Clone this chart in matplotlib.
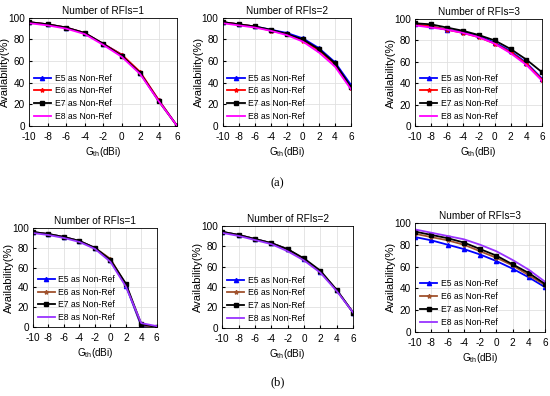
import numpy as np
import matplotlib.pyplot as plt

plt.rcParams['font.family'] = ['Liberation Sans', 'DejaVu Sans']
plt.rcParams['mathtext.fontset'] = 'custom'
plt.rcParams['mathtext.rm'] = 'Liberation Sans'
plt.rcParams['axes.unicode_minus'] = False

gth = [-10, -8, -6, -4, -2, 0, 2, 4, 6]
labels = ["E5 as Non-Ref", "E6 as Non-Ref", "E7 as Non-Ref", "E8 as Non-Ref"]

# (a) top row
a1 = [
    [96, 94, 91, 86, 76, 66, 49, 24, 0],
    [96, 94, 91, 86, 76, 66, 50, 24, 0],
    [96, 94, 91, 86, 76, 65, 49, 23, 0],
    [95, 93, 90, 85, 75, 64, 48, 23, 0],
]
a2 = [
    [96, 94, 92, 89, 86, 81, 72, 59, 38],
    [96, 94, 92, 88, 85, 79, 70, 57, 35],
    [96, 94, 92, 89, 85, 80, 71, 58, 36],
    [95, 93, 91, 88, 84, 78, 68, 55, 34],
]
a3 = [
    [95, 93, 90, 88, 84, 78, 70, 59, 44],
    [95, 93, 90, 87, 83, 77, 69, 58, 43],
    [96, 95, 92, 89, 85, 80, 72, 62, 50],
    [94, 92, 90, 87, 83, 77, 68, 57, 42],
]
# (b) bottom row
b1 = [
    [96, 94, 91, 87, 80, 68, 42, 1, 0],
    [96, 94, 91, 87, 80, 69, 43, 2, 0],
    [96, 94, 91, 87, 80, 68, 44, 3, 0],
    [95, 93, 90, 86, 79, 66, 41, 4, 1],
]
b2 = [
    [94, 91, 87, 83, 77, 67, 55, 37, 15],
    [94, 91, 87, 83, 77, 67, 55, 37, 15],
    [94, 91, 87, 83, 77, 68, 56, 37, 15],
    [93, 90, 86, 82, 75, 66, 54, 36, 15],
]
b3 = [
    [87, 84, 80, 76, 71, 65, 58, 50, 41],
    [90, 87, 84, 80, 74, 68, 61, 52, 43],
    [92, 89, 86, 82, 76, 70, 62, 54, 44],
    [94, 91, 88, 85, 80, 74, 66, 57, 46],
]

top_colors = ["#0000ff", "#ff0000", "#000000", "#ff00ff"]
bot_colors = ["#0000ff", "#a0522d", "#000000", "#9933ff"]
markers = ["^", "*", "s", None]

W = 550
fig = plt.figure(figsize=(5.5, 3.96), dpi=100)

panels = [
    (a1, "Number of RFIs=1", [0.053, 0.682, 0.269, 0.273], top_colors),
    (a2, "Number of RFIs=2", [0.405, 0.682, 0.233, 0.273], top_colors),
    (a3, "Number of RFIs=3", [0.755, 0.682, 0.231, 0.270], top_colors),
    (b1, "Number of RFIs=1", [0.060, 0.174, 0.225, 0.250], bot_colors),
    (b2, "Number of RFIs=2", [0.404, 0.172, 0.238, 0.258], bot_colors),
    (b3, "Number of RFIs=3", [0.755, 0.162, 0.236, 0.275], bot_colors),
]

for data, title, pos, cols in panels:
    ax = fig.add_axes(pos)
    for ys, lab, c, m in zip(data, labels, cols, markers):
        ax.plot(gth, ys, color=c, marker=m, ms=3, lw=1.3, label=lab)
    ax.set_xlim(-10, 6)
    ax.set_ylim(0, 100)
    ax.set_xticks(gth)
    ax.set_yticks(range(0, 101, 20))
    ax.grid(True, color="#e0e0e0", lw=0.6)
    ax.set_axisbelow(True)
    ax.tick_params(direction="in", labelsize=7.2, length=2, pad=3)
    ax.tick_params(axis="x", pad=4.5)
    ax.set_title(title, fontsize=7.2, pad=3)
    ax.set_xlabel(r"G$_{\rm th}$(dBi)", fontsize=7.2, labelpad=2)
    ax.set_ylabel("Availability(%)", fontsize=8)
    # y label sits about 19 px left of the axis, as in the source
    ax.yaxis.set_label_coords(-19 / (pos[2] * W), 0.5)
    for s in ax.spines.values():
        s.set_linewidth(0.6)
    ax.legend(loc="lower left", frameon=False, fontsize=6.2, handlelength=2.0,
              labelspacing=0.45, borderaxespad=0.15, handletextpad=0.4)

fig.text(0.505, 0.538, "(a)", ha="center", va="center", fontsize=9,
         family=["Liberation Serif", "DejaVu Serif"])
fig.text(0.505, 0.035, "(b)", ha="center", va="center", fontsize=9,
         family=["Liberation Serif", "DejaVu Serif"])

fig.savefig("out.png", dpi=100)
